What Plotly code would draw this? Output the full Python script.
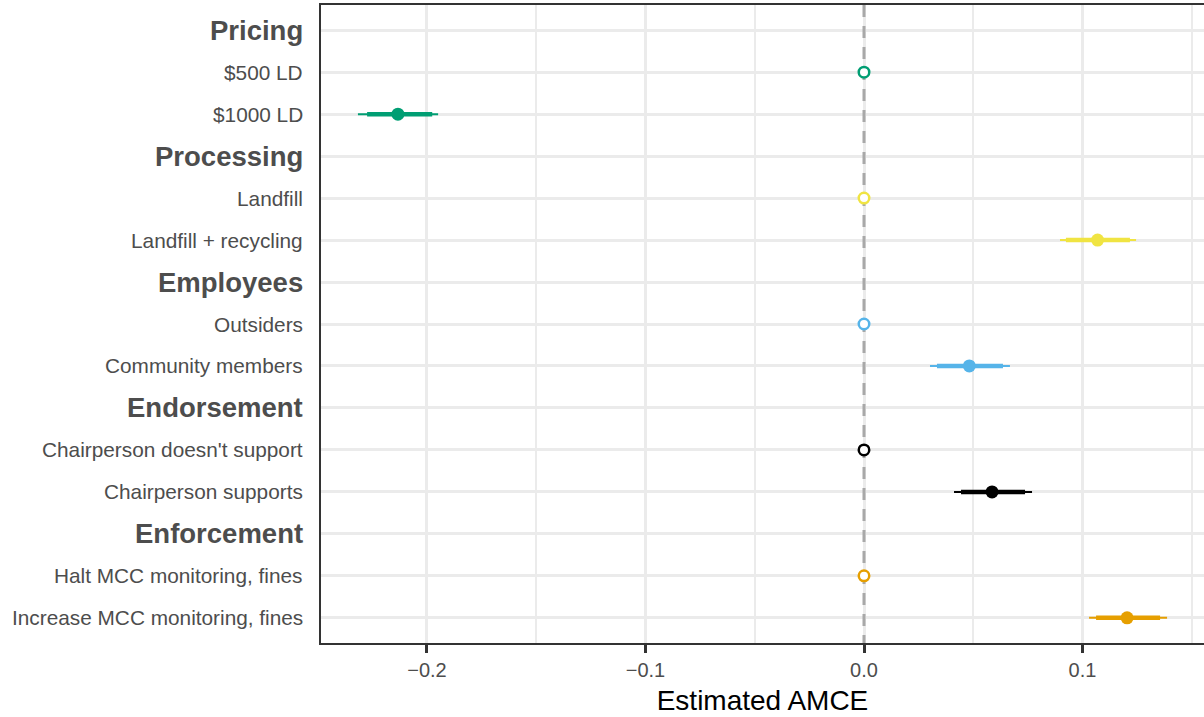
import plotly.graph_objects as go

# ---- data ----
categories = ["Pricing", "$500 LD", "$1000 LD",
              "Processing", "Landfill", "Landfill + recycling",
              "Employees", "Outsiders", "Community members",
              "Endorsement", "Chairperson doesn't support", "Chairperson supports",
              "Enforcement", "Halt MCC monitoring, fines", "Increase MCC monitoring, fines"]
headers = ["Pricing", "Processing", "Employees", "Endorsement", "Enforcement"]
reference_levels = ["$500 LD", "Landfill", "Outsiders", "Chairperson doesn't support",
                    "Halt MCC monitoring, fines"]
estimate_levels = ["$1000 LD", "Landfill + recycling", "Community members",
                   "Chairperson supports", "Increase MCC monitoring, fines"]
estimates = [-0.2133, 0.1069, 0.0482, 0.0586, 0.1204]
lo95 = [-0.2316, 0.0897, 0.0302, 0.0412, 0.1030]
hi95 = [-0.1949, 0.1245, 0.0668, 0.0769, 0.1387]
lo90 = [-0.2274, 0.0924, 0.0334, 0.0444, 0.1062]
hi90 = [-0.1976, 0.1217, 0.0636, 0.0737, 0.1355]
colors = ["#009E73", "#F0E442", "#56B4E9", "#000000", "#E69F00"]
x_ticks = [-0.2, -0.1, 0.0, 0.1]
x_ticklabels = ["\u22120.2", "\u22120.1", "0.0", "0.1"]
x_minor = [-0.15, -0.05, 0.05, 0.15]

FONT = "Liberation Sans, Arial, sans-serif"

pos = {c: i for i, c in enumerate(categories)}
n = len(categories)

fig = go.Figure()

# dashed reference line at zero (drawn first so marks sit on top)
fig.add_trace(go.Scatter(x=[0, 0], y=[-0.6, n - 0.4], mode="lines",
                         line=dict(color="#A8A8A8", width=3, dash="12px,9px"),
                         showlegend=False, hoverinfo="skip"))

for i in range(len(estimates)):
    c = colors[i]
    yv = pos[estimate_levels[i]]
    fig.add_trace(go.Scatter(x=[lo95[i], hi95[i]], y=[yv, yv], mode="lines",
                             line=dict(color=c, width=2), showlegend=False))
    fig.add_trace(go.Scatter(x=[lo90[i], hi90[i]], y=[yv, yv], mode="lines",
                             line=dict(color=c, width=4.5), showlegend=False))
    fig.add_trace(go.Scatter(x=[estimates[i]], y=[yv], mode="markers",
                             marker=dict(color=c, size=13, line=dict(width=0)),
                             showlegend=False))
    fig.add_trace(go.Scatter(x=[0], y=[pos[reference_levels[i]]], mode="markers",
                             marker=dict(color="white", size=10.5,
                                         line=dict(color=c, width=2.5)),
                             showlegend=False))

# y labels as annotations (headers bold)
for cat in categories:
    if cat in headers:
        fig.add_annotation(x=0, xref="paper", y=pos[cat], yref="y", text="<b>" + cat + "</b>",
                           showarrow=False, xanchor="right", xshift=-16,
                           font=dict(family=FONT, size=27.5, color="#4D4D4D"))
    else:
        fig.add_annotation(x=0, xref="paper", y=pos[cat], yref="y", text=cat,
                           showarrow=False, xanchor="right", xshift=-16,
                           font=dict(family=FONT, size=20.8, color="#4D4D4D"))

fig.update_layout(
    width=1204, height=717,
    margin=dict(l=321, r=0, t=5, b=74),
    plot_bgcolor="white", paper_bgcolor="white",
    font=dict(family=FONT),
    showlegend=False,
    xaxis=dict(
        range=[-0.2485, 0.1556],
        tickvals=x_ticks, ticktext=x_ticklabels,
        tickfont=dict(size=20, color="#4D4D4D", family=FONT),
        showgrid=True, gridcolor="#EBEBEB", gridwidth=3,
        minor=dict(tickvals=x_minor, showgrid=True, gridcolor="#EBEBEB",
                   gridwidth=1.5, ticklen=0),
        zeroline=False,
        showline=True, linecolor="#333333", linewidth=2, mirror=True,
        ticks="outside", ticklen=8, tickwidth=2.5, tickcolor="#333333",
        title=dict(text="Estimated AMCE", font=dict(size=28, color="black", family=FONT),
                   standoff=10),
    ),
    yaxis=dict(
        range=[n - 0.4, -0.6],
        tickvals=list(range(n)),
        showticklabels=False,
        showgrid=True, gridcolor="#EBEBEB", gridwidth=3,
        zeroline=False,
        showline=True, linecolor="#333333", linewidth=2, mirror=False,
        ticks="",
    ),
)

fig.write_html("out.html")
